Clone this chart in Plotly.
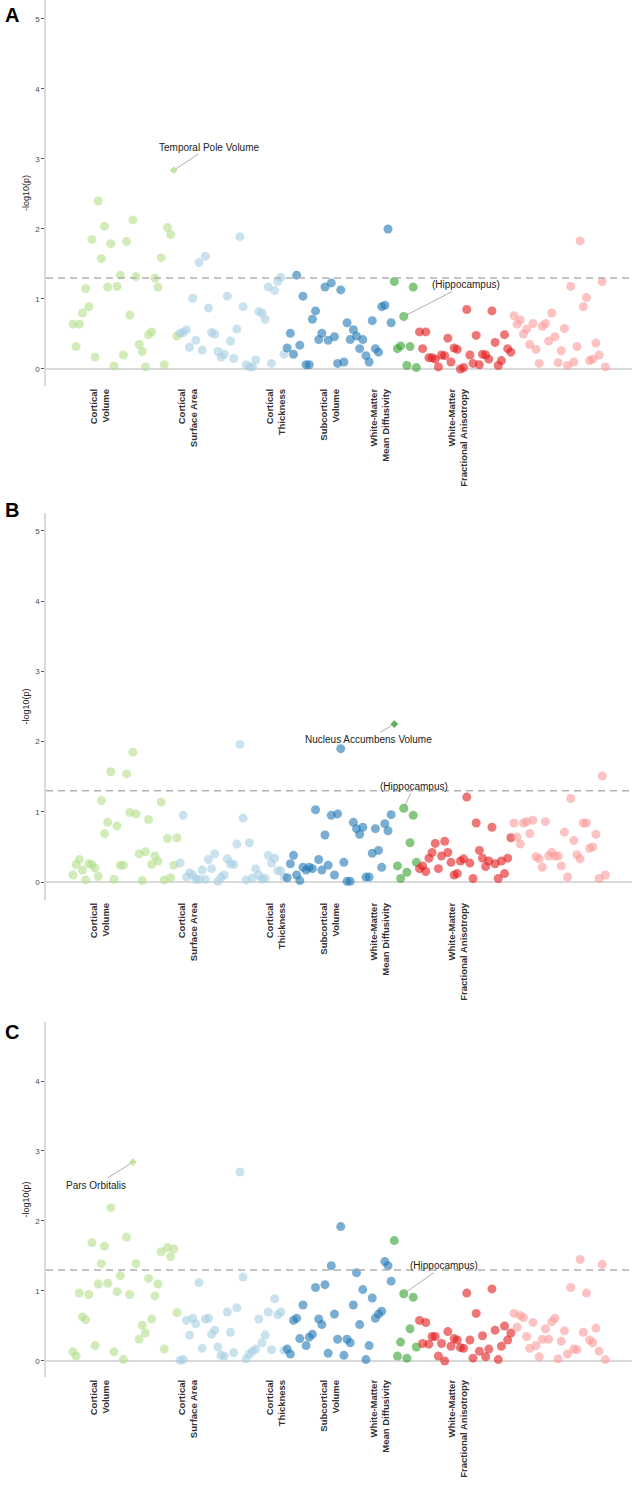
import plotly.graph_objects as go

# category labels, colours and where the rotated labels sit (in point-index units)
categories = ["Cortical<br>Volume", "Cortical<br>Surface Area", "Cortical<br>Thickness",
              "Subcortical<br>Volume", "White-Matter<br>Mean Diffusivity",
              "White-Matter<br>Fractional Anisotropy"]
cat_colors = ["#b2df8a", "#a6cee3", "#1f78b4", "#33a02c", "#e31a1c", "#fb9a99"]
tick_pos = [8.6, 36.5, 64.4, 81.6, 97.5, 122.2]
threshold = 1.3

# panel A  (-log10 p per region, in plotting order)
a_cort_vol = [0.64, 0.32, 0.64, 0.80, 1.15, 0.89, 1.85, 0.17, 2.40, 1.58, 2.04, 1.17, 1.79, 0.04, 1.18, 1.34, 0.20,
              1.82, 0.77, 2.13, 1.32, 0.35, 0.25, 0.03, 0.49, 0.53, 1.30, 1.17, 1.59, 0.06, 2.02, 1.92, 2.84, 0.47]
a_cort_sa = [0.51, 0.52, 0.56, 0.31, 1.01, 0.41, 1.52, 0.27, 1.61, 0.87, 0.52, 0.50, 0.25, 0.17, 0.21, 1.04, 0.40,
             0.15, 0.57, 1.89, 0.89, 0.06, 0.03, 0.03, 0.13, 0.82, 0.80, 0.71, 1.17, 0.08, 1.12, 1.25, 1.31, 0.21]
a_cort_th = [0.30, 0.51, 0.21, 1.34, 0.34, 1.04, 0.06, 0.06, 0.71, 0.83, 0.42, 0.51, 1.17, 0.41, 1.23, 0.46, 0.08,
             1.13, 0.10, 0.66, 0.42, 0.56, 0.47, 0.29, 0.42, 0.19, 0.10, 0.69, 0.29, 0.24, 0.89, 0.91, 2.00, 0.66]
a_subcort = [1.25, 0.29, 0.33, 0.75, 0.05, 0.32, 1.17, 0.02]
a_wm_md = [0.53, 0.29, 0.53, 0.16, 0.16, 0.14, 0.03, 0.20, 0.19, 0.44, 0.10, 0.30, 0.28, 0.00, 0.02, 0.85, 0.20,
           0.08, 0.48, 0.06, 0.21, 0.20, 0.14, 0.83, 0.38, 0.05, 0.12, 0.49, 0.29, 0.24]
a_wm_fa = [0.76, 0.64, 0.70, 0.50, 0.57, 0.35, 0.65, 0.28, 0.08, 0.61, 0.65, 0.40, 0.80, 0.46, 0.09, 0.26, 0.58,
           0.05, 1.18, 0.10, 0.32, 1.83, 0.89, 1.02, 0.12, 0.14, 0.37, 0.20, 1.25, 0.03]

# panel B
b_cort_vol = [0.10, 0.25, 0.32, 0.17, 0.03, 0.26, 0.25, 0.20, 0.08, 1.16, 0.69, 0.85, 1.57, 0.04, 0.80, 0.24, 0.24,
              1.54, 0.99, 1.85, 0.97, 0.40, 0.02, 0.43, 0.89, 0.25, 0.37, 0.30, 1.14, 0.03, 0.62, 0.06, 0.24, 0.63]
b_cort_sa = [0.27, 0.95, 0.07, 0.13, 0.10, 0.04, 0.04, 0.17, 0.04, 0.32, 0.19, 0.40, 0.01, 0.07, 0.10, 0.33, 0.26,
             0.25, 0.54, 1.96, 0.91, 0.03, 0.56, 0.06, 0.19, 0.10, 0.04, 0.05, 0.38, 0.27, 0.34, 0.16, 0.16, 0.07]
b_cort_th = [0.06, 0.26, 0.38, 0.10, 0.02, 0.21, 0.17, 0.21, 0.19, 1.03, 0.32, 0.17, 0.67, 0.24, 0.95, 0.10, 0.97,
             1.90, 0.28, 0.01, 0.01, 0.85, 0.76, 0.68, 0.78, 0.07, 0.07, 0.41, 0.76, 0.45, 0.21, 0.83, 0.73, 0.96]
b_subcort = [2.25, 0.23, 0.05, 1.05, 0.14, 0.56, 0.95, 0.28]
b_wm_md = [0.19, 0.23, 0.15, 0.34, 0.42, 0.55, 0.19, 0.37, 0.58, 0.42, 0.28, 0.10, 0.12, 0.30, 0.33, 1.21, 0.27,
           0.05, 0.84, 0.45, 0.34, 0.22, 0.30, 0.78, 0.26, 0.05, 0.30, 0.12, 0.34, 0.63]
b_wm_fa = [0.84, 0.64, 0.54, 0.84, 0.86, 0.69, 0.88, 0.36, 0.33, 0.21, 0.86, 0.37, 0.42, 0.37, 0.37, 0.23, 0.71,
           0.07, 1.19, 0.59, 0.39, 0.33, 0.84, 0.84, 0.48, 0.50, 0.68, 0.05, 1.51, 0.10]

# panel C
c_cort_vol = [0.13, 0.07, 0.97, 0.63, 0.59, 0.95, 1.69, 0.22, 1.10, 1.39, 1.64, 1.11, 2.19, 0.13, 0.99, 1.22, 0.02,
              1.77, 0.95, 2.84, 1.39, 0.31, 0.51, 0.40, 1.18, 0.60, 0.93, 1.10, 1.56, 0.17, 1.62, 1.49, 1.60, 0.69]
c_cort_sa = [0.01, 0.02, 0.58, 0.37, 0.61, 0.53, 1.12, 0.18, 0.60, 0.61, 0.38, 0.44, 0.20, 0.08, 0.07, 0.70, 0.41,
             0.12, 0.76, 2.70, 1.20, 0.03, 0.10, 0.14, 0.17, 0.60, 0.26, 0.37, 0.70, 0.16, 0.89, 0.66, 0.70, 0.15]
c_cort_th = [0.17, 0.10, 0.58, 0.61, 0.32, 0.80, 0.22, 0.34, 0.38, 1.05, 0.60, 0.52, 1.09, 0.11, 1.36, 0.67, 0.31,
             1.92, 0.08, 0.31, 0.26, 0.80, 1.26, 0.52, 1.02, 0.02, 0.22, 0.90, 0.61, 0.67, 0.71, 1.42, 1.36, 1.14]
c_subcort = [1.72, 0.07, 0.27, 0.96, 0.04, 0.46, 0.91, 0.20]
c_wm_md = [0.58, 0.25, 0.55, 0.24, 0.35, 0.35, 0.07, 0.25, 0.00, 0.42, 0.21, 0.32, 0.30, 0.19, 0.18, 0.97, 0.30,
           0.04, 0.68, 0.14, 0.36, 0.06, 0.17, 1.03, 0.44, 0.02, 0.21, 0.50, 0.30, 0.40]
c_wm_fa = [0.68, 0.48, 0.65, 0.62, 0.35, 0.18, 0.55, 0.22, 0.06, 0.31, 0.46, 0.31, 0.56, 0.61, 0.03, 0.28, 0.43,
           0.10, 1.05, 0.17, 0.16, 1.45, 0.41, 0.97, 0.30, 0.26, 0.47, 0.14, 1.38, 0.02]

# (category, index within category, label) of the top hit and the hippocampus in each panel
highlights = {
    "A": (0, 32, "Temporal Pole Volume"),
    "B": (3, 0, "Nucleus Accumbens Volume"),
    "C": (0, 19, "Pars Orbitalis"),
}
hippocampus = (3, 3, "(Hippocampus)")

font_family = "Arial, Liberation Sans, sans-serif"

panels = [
    # name, data, y domain, y range, label offsets (ax, ay) for highlight / hippocampus, letter y (px)
    ("A", [a_cort_vol, a_cort_sa, a_cort_th, a_subcort, a_wm_md, a_wm_fa],
     [0.74215, 1.0], [-0.243, 5.271], (35, -23), (62, -32), 15),
    ("B", [b_cort_vol, b_cort_sa, b_cort_th, b_subcort, b_wm_md, b_wm_fa],
     [0.39880, 0.65731], [-0.256, 5.256], (-26, 15), (10, -22), 510),
    ("C", [c_cort_vol, c_cort_sa, c_cort_th, c_subcort, c_wm_md, c_wm_fa],
     [0.08016, 0.31730], [-0.229, 4.843], (-37, 23), (40, -28), 1032),
]

fig = go.Figure()
W, H = 632, 1497

for p, (name, data, ydom, yrng, hl_off, hip_off, letter_y) in enumerate(panels):
    xa = "x" if p == 0 else "x%d" % (p + 1)
    ya = "y" if p == 0 else "y%d" % (p + 1)
    hl_cat, hl_idx, hl_text = highlights[name]

    start = 0
    positions = []
    for c, vals in enumerate(data):
        xs = list(range(start, start + len(vals)))
        positions.append(xs)
        keep = [i for i in range(len(vals)) if not (c == hl_cat and i == hl_idx)]
        fig.add_trace(go.Scatter(
            x=[xs[i] for i in keep], y=[vals[i] for i in keep],
            mode="markers", xaxis=xa, yaxis=ya, showlegend=False, hoverinfo="skip",
            marker=dict(size=9, color=cat_colors[c], opacity=0.6, line=dict(width=0)),
        ))
        start += len(vals)

    # top hit drawn as a small diamond
    hx = positions[hl_cat][hl_idx]
    hy = data[hl_cat][hl_idx]
    fig.add_trace(go.Scatter(
        x=[hx], y=[hy], mode="markers", xaxis=xa, yaxis=ya, showlegend=False, hoverinfo="skip",
        marker=dict(symbol="diamond", size=6, color=cat_colors[hl_cat], opacity=0.8, line=dict(width=0)),
    ))

    ann_font = dict(family=font_family, size=10, color="#222222")
    fig.add_annotation(x=hx, y=hy, xref=xa, yref=ya, text=hl_text, showarrow=True,
                       arrowhead=0, arrowwidth=0.7, arrowcolor="#8c8c8c", standoff=3,
                       ax=hl_off[0], ay=hl_off[1], font=ann_font)
    hip_cat, hip_idx, hip_text = hippocampus
    fig.add_annotation(x=positions[hip_cat][hip_idx], y=data[hip_cat][hip_idx], xref=xa, yref=ya,
                       text=hip_text, showarrow=True, arrowhead=0, arrowwidth=0.7,
                       arrowcolor="#8c8c8c", standoff=3, ax=hip_off[0], ay=hip_off[1], font=ann_font)

    # significance threshold
    fig.add_shape(type="line", xref=xa + " domain", yref=ya, x0=0, x1=1, y0=threshold, y1=threshold,
                  line=dict(color="#b0b0b0", width=1.5, dash="7px,5px"))

    # panel letter
    fig.add_annotation(xref="paper", yref="paper", x=12 / W, y=1 - letter_y / H, text="<b>%s</b>" % name,
                       showarrow=False, font=dict(family=font_family, size=20, color="#000000"),
                       xanchor="center", yanchor="middle")

    fig.update_layout(**{
        ("xaxis" if p == 0 else "xaxis%d" % (p + 1)): dict(
            domain=[46 / W, 1.0], range=[-8.57, 177.46], anchor=ya, automargin=False,
            showgrid=False, zeroline=False, showline=False, ticks="",
            tickmode="array", tickvals=tick_pos, ticktext=categories, tickangle=-90,
            tickfont=dict(family=font_family, size=9.5, color="#333333", weight="bold"),
        ),
        ("yaxis" if p == 0 else "yaxis%d" % (p + 1)): dict(
            domain=ydom, range=yrng, anchor=xa, automargin=False,
            showgrid=False, zeroline=True, zerolinecolor="#d9d9d9", zerolinewidth=1.5,
            showline=True, linecolor="#d9d9d9", linewidth=1.5,
            tickmode="linear", tick0=0, dtick=1, ticks="outside", ticklen=3, tickcolor="#555555",
            tickfont=dict(family=font_family, size=8, color="#4d4d4d"),
            title=dict(text="-log10(p)", standoff=4,
                       font=dict(family=font_family, size=9, color="#222222")),
        ),
    })

fig.update_layout(
    width=W, height=H,
    margin=dict(l=0, r=0, t=0, b=0),
    paper_bgcolor="white", plot_bgcolor="white",
    showlegend=False,
)

# drop the browser's default 8px body margin so the figure fills the window exactly
fig.write_html("out.html", config={"displayModeBar": False},
               post_script="document.body.style.margin='0';")
